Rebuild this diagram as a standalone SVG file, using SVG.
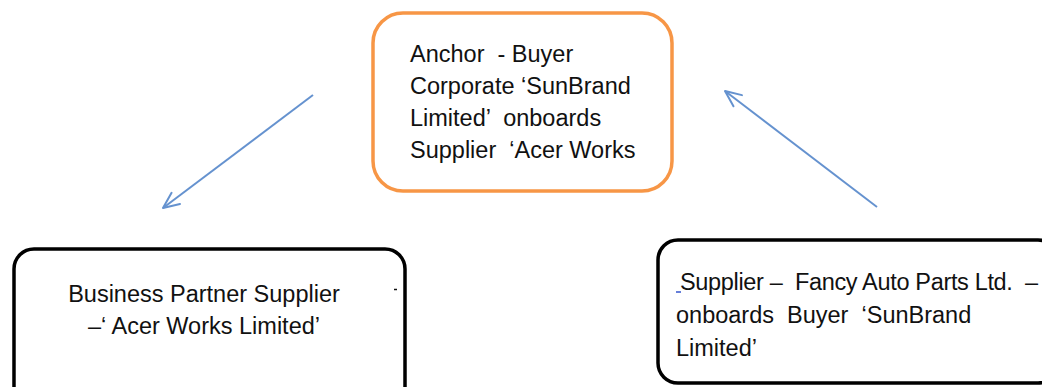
<svg xmlns="http://www.w3.org/2000/svg" width="1042" height="387" viewBox="0 0 1042 387">
  <defs>
    <marker id="openHead" viewBox="0 0 20 20" refX="18" refY="10" markerWidth="20" markerHeight="20" markerUnits="userSpaceOnUse" orient="auto">
      <path d="M2,3 L18,10 L2,17" fill="none" stroke="#6592CF" stroke-width="2" stroke-linecap="round" stroke-linejoin="round"/>
    </marker>
  </defs>
  <style>
    .box { fill: #ffffff; stroke: #000000; stroke-width: 3.5; }
    .anchor { fill: #ffffff; stroke: #F79646; stroke-width: 3.5; }
    .label { font-family: "Liberation Sans", Arial, sans-serif; font-size: 23.5px; fill: #111111; white-space: pre; }
    .link { fill: none; stroke: #6592CF; stroke-width: 2; }
  </style>
  <rect width="1042" height="387" fill="#ffffff"/>

  <!-- connectors -->
  <g id="connectors">
    <line class="link" x1="313" y1="95" x2="163" y2="208" marker-end="url(#openHead)"/>
    <line class="link" x1="877" y1="207" x2="725" y2="91" marker-end="url(#openHead)"/>
  </g>

  <!-- anchor buyer node -->
  <g id="anchor-buyer">
    <rect class="anchor" x="373" y="13" width="299" height="178" rx="30" ry="30"/>
    <text class="label" x="410" y="62" xml:space="preserve">Anchor  - Buyer</text>
    <text class="label" x="410" y="94" xml:space="preserve">Corporate ‘SunBrand</text>
    <text class="label" x="410" y="126" xml:space="preserve">Limited’  onboards</text>
    <text class="label" x="410" y="158" xml:space="preserve">Supplier  ‘Acer Works</text>
  </g>

  <!-- business partner supplier node -->
  <g id="partner-supplier">
    <rect class="box" x="14" y="249" width="391" height="160" rx="20" ry="20"/>
    <text class="label" x="204" y="302" text-anchor="middle">Business Partner Supplier</text>
    <text class="label" x="204" y="334" text-anchor="middle" xml:space="preserve">–‘ Acer Works Limited’</text>
    <line x1="394" y1="289.5" x2="397" y2="289.5" stroke="#111111" stroke-width="1.5"/>
  </g>

  <!-- supplier onboarding buyer node -->
  <g id="supplier-onboards">
    <rect class="box" x="658" y="240" width="400" height="143" rx="20" ry="20"/>
    <line x1="676" y1="292" x2="681" y2="292" stroke="#3355cc" stroke-width="1.5"/>
    <text class="label" x="680" y="290" textLength="358" lengthAdjust="spacing" xml:space="preserve">Supplier –  Fancy Auto Parts Ltd.  –</text>
    <text class="label" x="676" y="323" xml:space="preserve">onboards  Buyer  ‘SunBrand</text>
    <text class="label" x="676" y="356" xml:space="preserve">Limited’</text>
  </g>
</svg>
